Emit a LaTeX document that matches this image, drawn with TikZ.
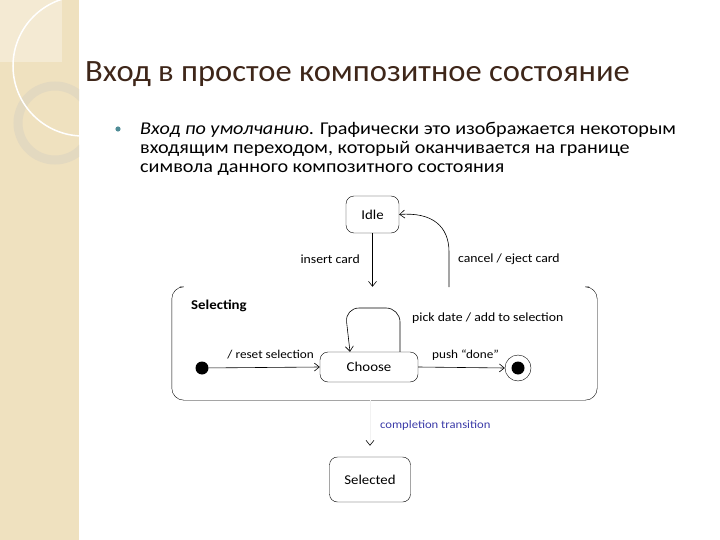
\documentclass[tikz,border=0pt]{standalone}
\usepackage{fontspec}
\setmainfont{Carlito}
\newfontfamily\widefont[FakeStretch=1.1]{Carlito}
\newfontfamily\titlefont[FakeStretch=1.05]{Carlito}
\newfontfamily\bodyfont[FakeStretch=1.12]{Carlito}
\usetikzlibrary{arrows.meta}

\definecolor{sidebar}{HTML}{EFE1BF}
\definecolor{sidelight}{HTML}{F4EAD3}
\definecolor{ringcol}{HTML}{E3D9C0}
\definecolor{titlecol}{HTML}{3E2619}
\definecolor{bulletcol}{HTML}{4F8C96}
\definecolor{notecol}{HTML}{3B3BA8}

\begin{document}
\begin{tikzpicture}[x=1pt,y=-1pt,
        state/.style={draw, rounded corners=8pt, font=\widefont\fontsize{13.5}{15}\selectfont},
        trans/.style={-{Straight Barb[length=5pt,width=8pt]}, semithick},
        lbl/.style={font=\widefont\fontsize{12.5}{14}\selectfont, inner sep=1pt},
        textline/.style={anchor=base west, inner sep=0, font=\bodyfont\fontsize{18}{20}\selectfont}]
            \useasboundingbox (0,0) rectangle (720,540);

            % sidebar
            \fill[sidebar] (0,0) rectangle (79,540);
            \fill[sidelight] (0,0) rectangle (62,62);
            \begin{scope}
                \clip (0,0) rectangle (79,540);
                \draw[ringcol, line width=9pt] (55,123) circle (37);
                \draw[white, line width=1.5pt] (83,66) circle (70);
            \end{scope}

            % title and text
            \node[anchor=base west, inner sep=0, text=titlecol, font=\titlefont\fontsize{31}{33}\selectfont] (title) at (85,82) {Вход в простое композитное состояние};
            \fill[bulletcol] (118,129) circle (2.6);
            \node[textline] (line1) at (140,135) {\textit{Вход по умолчанию}. Графически это изображается некоторым};
            \node[textline] (line2) at (140,154) {входящим переходом, который оканчивается на границе};
            \node[textline] (line3) at (140,173) {символа данного композитного состояния};

            % states
            \node[state, minimum width=53pt, minimum height=37pt] (idle) at (372.5,214.5) {Idle};
            \node[minimum width=425pt, minimum height=113pt, inner sep=0] (sel) at (384.5,343.5) {};
            \node[state, minimum width=98pt, minimum height=30pt] (choose) at (369,367) {Choose};
            \node[state, minimum width=81pt, minimum height=45pt] (selected) at (370,479.5) {Selected};
            \node[circle, fill, inner sep=0, minimum size=13pt] (init) at (202,368) {};
            \node[circle, draw, inner sep=0, minimum size=26pt] (final) at (518,368) {};
            \fill (final) circle (6.5);

            % composite outline, top edge not drawn
            \draw[rounded corners=12pt] ([xshift=8pt]sel.north west) -- (sel.north west) -- (sel.south west)
                -- (sel.south east) -- (sel.north east) -- ([xshift=-8pt]sel.north east);
            \node[anchor=base west, inner sep=0, font=\widefont\bfseries\fontsize{13.5}{15}\selectfont] (selname) at (191,309) {Selecting};

            % transitions
            \draw[trans] (idle.south) -- (idle.south |- sel.north);
            \node[lbl, anchor=east] (inscard) at (361,259) {insert card};
            \coordinate (cstart) at (449,287);
            \draw[trans] (cstart) -- (449,252) .. controls (449,226) and (432,212) .. (idle.east);
            \node[lbl, anchor=west] (cancel) at (457,259) {cancel / eject card};
            \draw[trans] (init) -- (choose.west);
            \node[lbl, anchor=east, font=\widefont\fontsize{12}{14}\selectfont] (reset) at (315,355) {/ reset selection};
            \draw[trans, rounded corners=14pt] ([xshift=31pt]choose.north) -- (400,308) -- (345,308) -- ([xshift=-19pt]choose.north);
            \node[lbl, anchor=west] (pick) at (411,318) {pick date / add to selection};
            \draw[trans] (choose.east) -- (final.west);
            \node[lbl, anchor=west, font=\widefont\fontsize{12}{14}\selectfont] (push) at (431,355) {push “done”};
            \draw[black!5, -{Straight Barb[length=5pt,width=8pt,color=black]}, semithick, shorten >=11pt] (sel.south -| selected.north) -- (selected.north);
            \node[lbl, anchor=west, text=notecol, font=\widefont\fontsize{11.5}{13}\selectfont] (compl) at (379,425) {completion transition};
        \end{tikzpicture}
\end{document}
